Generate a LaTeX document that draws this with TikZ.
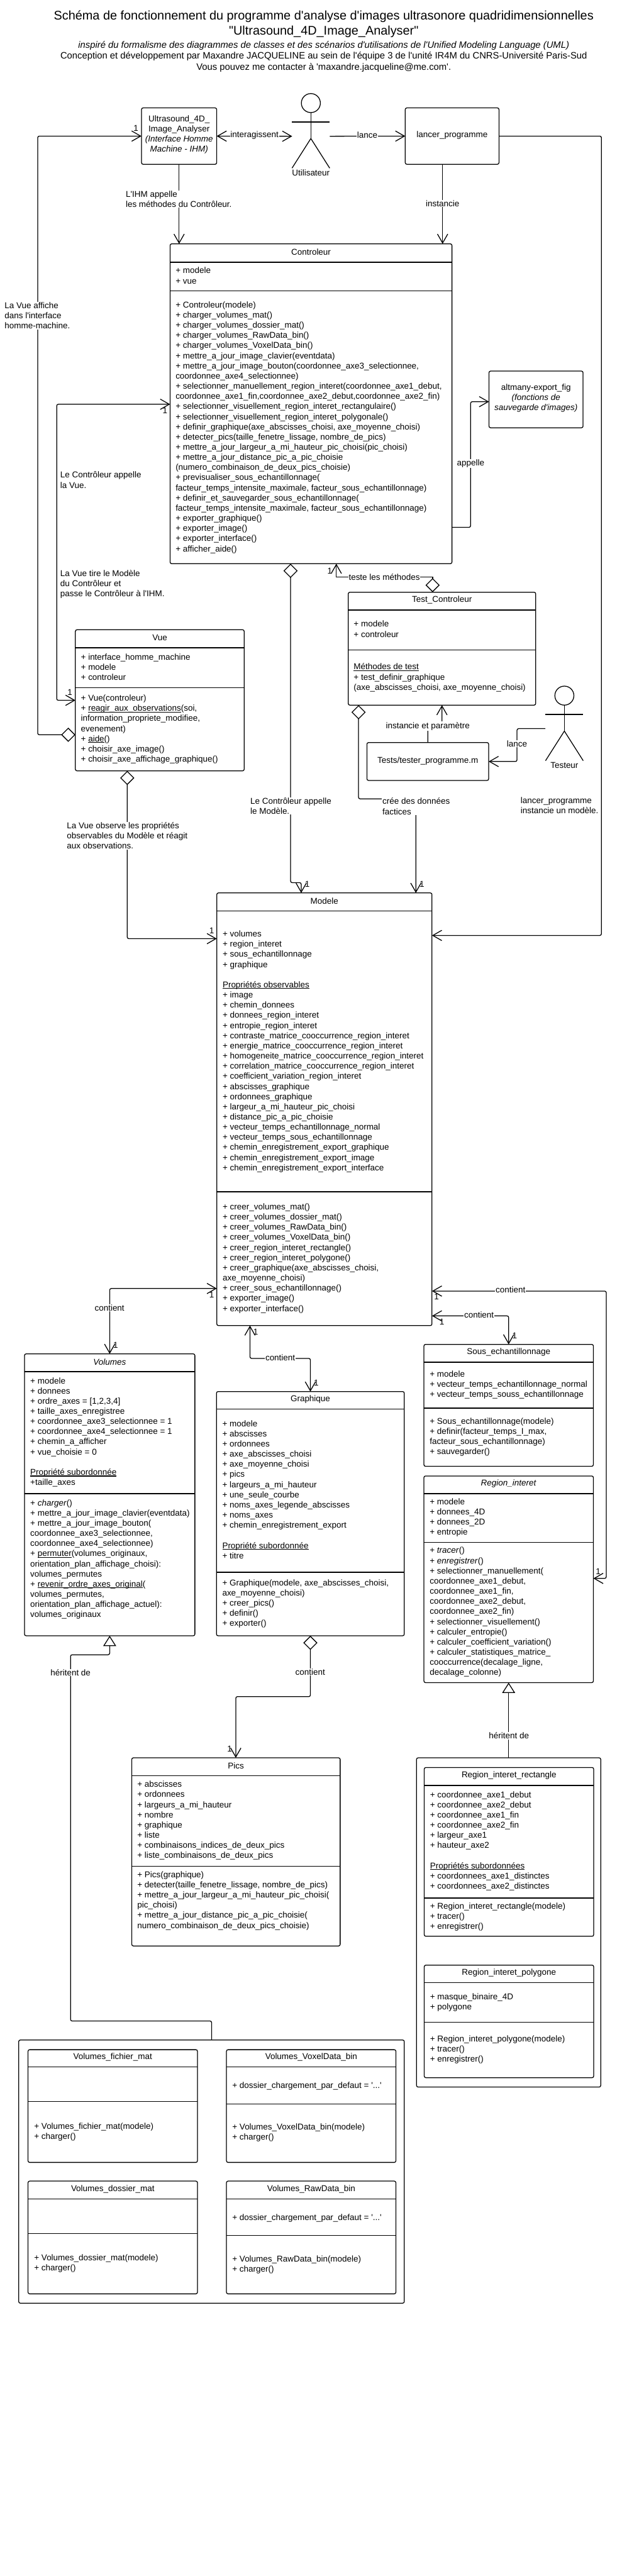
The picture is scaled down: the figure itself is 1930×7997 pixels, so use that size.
\documentclass[tikz,border=0pt]{standalone}
\usepackage{fontspec}
\setmainfont{Liberation Sans}[Ligatures=TeXOff]
\usepackage{tikz}
\usetikzlibrary{arrows.meta, calc}

\newcommand{\texte}{\fontsize{26.3}{31.55}\selectfont}
\newcommand{\grand}{\fontsize{38.8}{47}\selectfont}
\newcommand{\moyen}{\fontsize{28.9}{34.6}\selectfont}
\newsavebox{\soulboite}
\newcommand{\souligne}[1]{\sbox{\soulboite}{#1}\rlap{\rule[-4pt]{\wd\soulboite}{2pt}}\usebox{\soulboite}}

\tikzset{
  ouvert/.tip={Straight Barb[length=28pt,width=32pt]},
  losange/.tip={Diamond[open,length=44pt,width=44pt]},
  heritage/.tip={Triangle[open,length=32pt,width=40pt]},
  boite/.style={draw, rectangle, rounded corners=5pt, line width=2.5pt, outer sep=0pt, inner sep=0pt, font=\texte, align=center},
  titre/.style={inner sep=0pt, font=\texte, align=center},
  membre/.style={anchor=north west, align=left, inner sep=0pt, font=\texte, yshift=10pt, execute at begin node=\strut},
  trait/.style={line width=2.5pt},
  lien/.style={line width=2.5pt, rounded corners=5pt},
  etiquette/.style={fill=white, inner sep=1.5pt, align=left, font=\texte},
  note/.style={anchor=west, inner sep=0pt, align=left, font=\texte},
  mult/.style={inner sep=0pt, font=\texte},
  tete/.style={draw, circle, line width=2.5pt, minimum size=59pt, inner sep=0pt, outer sep=0pt}
}

% nom, x1, y1, x2, y2, y du titre, y des attributs, titre
\newcommand{\classe}[8]{
  \node[boite, minimum width={(#4-#2)*1pt}, minimum height={(#5-#3)*1pt}] (#1) at ({(#2+#4)/2},{(#3+#5)/2}) {};
  \node[titre, yshift=3pt] (#1titre) at ({(#2+#4)/2},{(#3+#6)/2}) {#8};
  \draw[trait] (#1.west |- 0,#6) -- (#1.east |- 0,#6);
  \draw[trait] (#1.west |- 0,#7) -- (#1.east |- 0,#7);
}

% nom, x, y de la tete, libelle
\newcommand{\acteur}[4]{
  \node[tete] (#1) at (#2,#3) {};
  \coordinate (#1corps) at ($(#1.south)+(0,80.5)$);
  \coordinate (#1bras) at ($(#1.south)+(0,29)$);
  \draw[trait] (#1.south) -- (#1corps);
  \draw[trait] ($(#1bras)+(-58.5,0)$) -- ($(#1bras)+(58.5,0)$);
  \draw[trait] ($(#1corps)+(-58.5,92)$) -- (#1corps) -- ($(#1corps)+(58.5,92)$);
  \node[titre] (#1nom) at ($(#1corps)+(0,106)$) {#4};
}

\begin{document}
\begin{tikzpicture}[x=1pt, y=-1pt]
  \useasboundingbox (0,0) rectangle (1930,7997);

  \node[inner sep=0pt, font=\grand] (titre1) at (1005,51) {Schéma de fonctionnement du programme d'analyse d'images ultrasonore quadridimensionnelles};
  \node[inner sep=0pt, font=\grand] (titre2) at (1005,98) {"Ultrasound\_4D\_Image\_Analyser"};
  \node[inner sep=0pt, font=\moyen] (titre3) at (1005,141) {\textit{inspiré du formalisme des diagrammes de classes et des scénarios d'utilisations de l'Unified Modeling Language (UML)}};
  \node[inner sep=0pt, font=\moyen] (titre4) at (1005,175) {Conception et développement par Maxandre JACQUELINE au sein de l'équipe 3 de l'unité IR4M du CNRS-Université Paris-Sud};
  \node[inner sep=0pt, font=\moyen] (titre5) at (1005,210) {Vous pouvez me contacter à 'maxandre.jacqueline@me.com'.};

  \node[boite, minimum width=233.5pt, minimum height=175pt] (ihm) at (556,422.5) {};
  \node[titre] (ihmtexte) at (556,417.5) {Ultrasound\_4D\_\\Image\_Analyser\\\textit{(Interface Homme}\\\textit{Machine - IHM)}};
  \node[boite, minimum width=291pt, minimum height=175pt] (lancer) at (1403.5,422.5) {};
  \node[titre] (lancertexte) at (1403.5,420) {lancer\_programme};
  \node[boite, minimum width=292pt, minimum height=176pt] (altmany) at (1664,1240) {};
  \node[titre] (altmanytexte) at (1664,1235.5) {altmany-export\_fig\\\textit{(fonctions de}\\\textit{sauvegarde d'images)}};
  \node[boite, minimum width=378pt, minimum height=117.5pt] (tester) at (1328,2364) {};
  \node[titre] (testertexte) at (1328,2362) {Tests/tester\_programme.m};

  \acteur{utilisateur}{965}{320}{Utilisateur}
  \acteur{testeur}{1752}{2159.5}{Testeur}
  \coordinate (utilisateurG) at (907,423);
  \coordinate (utilisateurD) at (1024,423);
  \coordinate (testeurG) at (1693,2262);

  \classe{ctrl}{528}{757}{1403}{1750}{814}{903.5}{Controleur}
  \node[membre] (ctrlA) at (545,840) {+ modele\\+ vue};
  \node[membre] (ctrlM) at (545,946) {+ Controleur(modele)\\+ charger\_volumes\_mat()\\+ charger\_volumes\_dossier\_mat()\\+ charger\_volumes\_RawData\_bin()\\+ charger\_volumes\_VoxelData\_bin()\\+ mettre\_a\_jour\_image\_clavier(eventdata)\\+ mettre\_a\_jour\_image\_bouton(coordonnee\_axe3\_selectionnee,\\coordonnee\_axe4\_selectionnee)\\+ selectionner\_manuellement\_region\_interet(coordonnee\_axe1\_debut,\\coordonnee\_axe1\_fin,coordonnee\_axe2\_debut,coordonnee\_axe2\_fin)\\+ selectionner\_visuellement\_region\_interet\_rectangulaire()\\+ selectionner\_visuellement\_region\_interet\_polygonale()\\+ definir\_graphique(axe\_abscisses\_choisi, axe\_moyenne\_choisi)\\+ detecter\_pics(taille\_fenetre\_lissage, nombre\_de\_pics)\\+ mettre\_a\_jour\_largeur\_a\_mi\_hauteur\_pic\_choisi(pic\_choisi)\\+ mettre\_a\_jour\_distance\_pic\_a\_pic\_choisie\\(numero\_combinaison\_de\_deux\_pics\_choisie)\\+ previsualiser\_sous\_echantillonnage(\\facteur\_temps\_intensite\_maximale, facteur\_sous\_echantillonnage)\\+ definir\_et\_sauvegarder\_sous\_echantillonnage(\\facteur\_temps\_intensite\_maximale, facteur\_sous\_echantillonnage)\\+ exporter\_graphique()\\+ exporter\_image()\\+ exporter\_interface()\\+ afficher\_aide()};

  \classe{vue}{234}{1955}{758}{2393}{2011}{2134.5}{Vue}
  \node[membre] (vueA) at (251,2039) {+ interface\_homme\_machine\\+ modele\\+ controleur};
  \node[membre] (vueM) at (251,2167) {+ Vue(controleur)\\+ \souligne{reagir\_aux\_observations}(soi,\\information\_propriete\_modifiee,\\evenement)\\+ \souligne{aide}()\\+ choisir\_axe\_image()\\+ choisir\_axe\_affichage\_graphique()};

  \classe{test}{1081}{1838.5}{1663}{2189}{1894}{2018}{Test\_Controleur}
  \node[membre] (testA) at (1098,1937) {+ modele\\+ controleur};
  \node[membre] (testM) at (1098,2069.5) {\souligne{Méthodes de test}\\+ test\_definir\_graphique\\(axe\_abscisses\_choisi, axe\_moyenne\_choisi)};

  \classe{modele}{673}{2772}{1341}{4115}{2828}{3700}{Modele}
  \node[membre] (modeleA) at (691,2899) {+ volumes\\+ region\_interet\\+ sous\_echantillonnage\\+ graphique\\[31.55pt]\souligne{Propriétés observables}\\+ image\\+ chemin\_donnees\\+ donnees\_region\_interet\\+ entropie\_region\_interet\\+ contraste\_matrice\_cooccurrence\_region\_interet\\+ energie\_matrice\_cooccurrence\_region\_interet\\+ homogeneite\_matrice\_cooccurrence\_region\_interet\\+ correlation\_matrice\_cooccurrence\_region\_interet\\+ coefficient\_variation\_region\_interet\\+ abscisses\_graphique\\+ ordonnees\_graphique\\+ largeur\_a\_mi\_hauteur\_pic\_choisi\\+ distance\_pic\_a\_pic\_choisie\\+ vecteur\_temps\_echantillonnage\_normal\\+ vecteur\_temps\_sous\_echantillonnage\\+ chemin\_enregistrement\_export\_graphique\\+ chemin\_enregistrement\_export\_image\\+ chemin\_enregistrement\_export\_interface};
  \node[membre] (modeleM) at (691,3746) {+ creer\_volumes\_mat()\\+ creer\_volumes\_dossier\_mat()\\+ creer\_volumes\_RawData\_bin()\\+ creer\_volumes\_VoxelData\_bin()\\+ creer\_region\_interet\_rectangle()\\+ creer\_region\_interet\_polygone()\\+ creer\_graphique(axe\_abscisses\_choisi,\\axe\_moyenne\_choisi)\\+ creer\_sous\_echantillonnage()\\+ exporter\_image()\\+ exporter\_interface()};

  \classe{volumes}{76}{4203}{605}{5078}{4258}{4637}{\textit{Volumes}}
  \node[membre] (volumesA) at (94,4286) {+ modele\\+ donnees\\+ ordre\_axes = [1,2,3,4]\\+ taille\_axes\_enregistree\\+ coordonnee\_axe3\_selectionnee = 1\\+ coordonnee\_axe4\_selectionnee = 1\\+ chemin\_a\_afficher\\+ vue\_choisie = 0\\[31.55pt]\souligne{Propriété subordonnée}\\+taille\_axes};
  \node[membre] (volumesM) at (94,4665) {+ \textit{charger}()\\+ mettre\_a\_jour\_image\_clavier(eventdata)\\+ mettre\_a\_jour\_image\_bouton(\\coordonnee\_axe3\_selectionnee,\\coordonnee\_axe4\_selectionnee)\\+ \souligne{permuter}(volumes\_originaux,\\orientation\_plan\_affichage\_choisi):\\volumes\_permutes\\+ \souligne{revenir\_ordre\_axes\_original}(\\volumes\_permutes,\\orientation\_plan\_affichage\_actuel):\\volumes\_originaux};

  \classe{graphique}{672}{4320}{1255}{5078}{4374}{4881}{Graphique}
  \node[membre] (graphiqueA) at (690,4419) {+ modele\\+ abscisses\\+ ordonnees\\+ axe\_abscisses\_choisi\\+ axe\_moyenne\_choisi\\+ pics\\+ largeurs\_a\_mi\_hauteur\\+ une\_seule\_courbe\\+ noms\_axes\_legende\_abscisses\\+ noms\_axes\\+ chemin\_enregistrement\_export\\[31.55pt]\souligne{Propriété subordonnée}\\+ titre};
  \node[membre] (graphiqueM) at (690,4913) {+ Graphique(modele, axe\_abscisses\_choisi,\\axe\_moyenne\_choisi)\\+ creer\_pics()\\+ definir()\\+ exporter()};

  \classe{sous}{1316}{4173.5}{1842}{4552}{4229}{4371.5}{Sous\_echantillonnage}
  \node[membre] (sousA) at (1334,4265) {+ modele\\+ vecteur\_temps\_echantillonnage\_normal\\+ vecteur\_temps\_souss\_echantillonnage};
  \node[membre] (sousM) at (1334,4411) {+ Sous\_echantillonnage(modele)\\+ definir(facteur\_temps\_I\_max,\\facteur\_sous\_echantillonnage)\\+ sauvegarder()};

  \classe{region}{1316}{4582}{1842}{5223.5}{4637}{4788}{\textit{Region\_interet}}
  \node[membre] (regionA) at (1334,4661) {+ modele\\+ donnees\_4D\\+ donnees\_2D\\+ entropie};
  \node[membre] (regionM) at (1334,4813) {+ \textit{tracer}()\\+ \textit{enregistrer}()\\+ selectionner\_manuellement(\\coordonnee\_axe1\_debut,\\coordonnee\_axe1\_fin,\\coordonnee\_axe2\_debut,\\coordonnee\_axe2\_fin)\\+ selectionner\_visuellement()\\+ calculer\_entropie()\\+ calculer\_coefficient\_variation()\\+ calculer\_statistiques\_matrice\_\\cooccurrence(decalage\_ligne,\\decalage\_colonne)};

  \classe{pics}{409}{5457}{1056}{6041}{5513}{5793}{Pics}
  \node[membre] (picsA) at (426,5539) {+ abscisses\\+ ordonnees\\+ largeurs\_a\_mi\_hauteur\\+ nombre\\+ graphique\\+ liste\\+ combinaisons\_indices\_de\_deux\_pics\\+ liste\_combinaisons\_de\_deux\_pics};
  \node[membre] (picsM) at (426,5819) {+ Pics(graphique)\\+ detecter(taille\_fenetre\_lissage, nombre\_de\_pics)\\+ mettre\_a\_jour\_largeur\_a\_mi\_hauteur\_pic\_choisi(\\pic\_choisi)\\+ mettre\_a\_jour\_distance\_pic\_a\_pic\_choisie(\\numero\_combinaison\_de\_deux\_pics\_choisie)};

  \node[boite, minimum width=572pt, minimum height=1022pt] (grouperegion) at (1579,5968) {};
  \classe{rect}{1317}{5487}{1843}{6011}{5543}{5892}{Region\_interet\_rectangle}
  \node[membre] (rectA) at (1335,5571) {+ coordonnee\_axe1\_debut\\+ coordonnee\_axe2\_debut\\+ coordonnee\_axe1\_fin\\+ coordonnee\_axe2\_fin\\+ largeur\_axe1\\+ hauteur\_axe2\\[31.55pt]\souligne{Propriétés subordonnées}\\+ coordonnees\_axe1\_distinctes\\+ coordonnees\_axe2\_distinctes};
  \node[membre] (rectM) at (1335,5917) {+ Region\_interet\_rectangle(modele)\\+ tracer()\\+ enregistrer()};
  \classe{poly}{1317}{6100.5}{1843}{6450}{6155}{6278}{Region\_interet\_polygone}
  \node[membre] (polyA) at (1335,6197.5) {+ masque\_binaire\_4D\\+ polygone};
  \node[membre] (polyM) at (1335,6329) {+ Region\_interet\_polygone(modele)\\+ tracer()\\+ enregistrer()};

  \node[boite, minimum width=1197pt, minimum height=817pt] (groupevolumes) at (656.5,6741.5) {};
  \classe{fichier}{87}{6363}{613}{6713}{6417}{6524}{Volumes\_fichier\_mat}
  \node[membre] (fichierM) at (106,6600) {+ Volumes\_fichier\_mat(modele)\\+ charger()};
  \classe{voxel}{703}{6363}{1229}{6713}{6417}{6531}{Volumes\_VoxelData\_bin}
  \node[membre] (voxelA) at (721,6471) {+ dossier\_chargement\_par\_defaut = '...'};
  \node[membre] (voxelM) at (721,6603) {+ Volumes\_VoxelData\_bin(modele)\\+ charger()};
  \classe{dossier}{87}{6771}{613}{7121}{6826}{6934}{Volumes\_dossier\_mat}
  \node[membre] (dossierM) at (106,7008) {+ Volumes\_dossier\_mat(modele)\\+ charger()};
  \classe{raw}{703}{6771}{1229}{7121}{6826}{6940}{Volumes\_RawData\_bin}
  \node[membre] (rawA) at (721,6880) {+ dossier\_chargement\_par\_defaut = '...'};
  \node[membre] (rawM) at (721,7012) {+ Volumes\_RawData\_bin(modele)\\+ charger()};

  \draw[lien, {losange}-{ouvert}] (vue.west |- 0,2281) -- (117,2281) -- (117,0 |- ihm.west) -- (ihm.west);
  \draw[lien, {ouvert}-{ouvert}] (ihm.east) -- (utilisateurG);
  \draw[lien, -{ouvert}] (utilisateurD) -- (lancer.west);
  \draw[lien, -{ouvert}] (lancer.east) -- (1867,0 |- lancer.east) -- (1867,2904) -- (modele.east |- 0,2904);
  \draw[lien, -{ouvert}] (ihm.south) -- (ihm.south |- ctrl.north);
  \draw[lien, -{ouvert}] (1374,0 |- lancer.south) -- (1374,0 |- ctrl.north);
  \draw[lien, {ouvert}-{ouvert}] (ctrl.west |- 0,1255) -- (176,1255) -- (176,2174) -- (vue.west |- 0,2174);
  \draw[lien, -{ouvert}] (ctrl.east |- 0,1637) -- (1461,1637) -- (1461,1247) -- (altmany.west |- 0,1247);
  \draw[lien, {losange}-{ouvert}] (902,0 |- ctrl.south) -- (902,2740) -- (935,2740) -- (935,0 |- modele.north);
  \draw[lien, {losange}-{ouvert}] (1113,0 |- test.south) -- (1113,2480) -- (1291,2480) -- (1291,0 |- modele.north);
  \draw[lien, {losange}-{ouvert}] (395,0 |- vue.south) -- (395,2914) -- (modele.west |- 0,2914);
  \draw[trait, {losange}-{ouvert}] (1343,0 |- test.north) -- (1343,1792) -- (1044,1792) -- (1044,0 |- ctrl.south);
  \draw[lien, -{ouvert}] (tester.north) -- (1328,2254) -- (1372,2254) -- (1372,0 |- test.south);
  \draw[lien, -{ouvert}] (testeurG) -- (1605,2262) -- (1605,0 |- tester.east) -- (tester.east);
  \draw[lien, {ouvert}-{ouvert}] (modele.west |- 0,4000) -- (volumes.north |- 0,4000) -- (volumes.north);
  \draw[lien, {ouvert}-{ouvert}] (776,0 |- modele.south) -- (776,4217) -- (graphique.north |- 0,4217) -- (graphique.north);
  \draw[lien, {ouvert}-{ouvert}] (modele.east |- 0,4085) -- (sous.north |- 0,4085) -- (sous.north);
  \draw[lien, {ouvert}-{ouvert}] (modele.east |- 0,4008) -- (1882,4008) -- (1882,4900) -- (region.east |- 0,4900);
  \draw[lien, {losange}-{ouvert}] (graphique.south) -- (graphique.south |- 0,5267) -- (732,5267) -- (732,0 |- pics.north);
  \draw[lien, {heritage}-] (volumes.south) -- (volumes.south |- 0,5137) -- (219,5137) -- (219,6274) -- (657,6274) -- (657,0 |- groupevolumes.north);
  \draw[lien, {heritage}-] (region.south) -- (region.south |- grouperegion.north);

  \node[etiquette] (lbl1) at (790,420) {interagissent};
  \node[etiquette] (lbl2) at (1140,420) {lance};
  \node[etiquette] (lbl3) at (555,618) {L'IHM appelle\\les méthodes du Contrôleur.};
  \node[etiquette] (lbl4) at (1374,632) {instancie};
  \node[etiquette] (lbl5) at (116,980) {La Vue affiche\\dans l'interface\\homme-machine.};
  \node[note] (lbl6) at (187,1490) {Le Contrôleur appelle\\la Vue.};
  \node[note] (lbl7) at (187,1813) {La Vue tire le Modèle\\du Contrôleur et\\passe le Contrôleur à l'IHM.};
  \node[etiquette] (lbl8) at (1461,1439) {appelle};
  \node[etiquette] (lbl9) at (1193,1792) {teste les méthodes};
  \node[etiquette] (lbl10) at (1328,2254) {instancie et paramètre};
  \node[etiquette] (lbl11) at (1605,2309) {lance};
  \node[etiquette] (lbl12) at (903,2502) {Le Contrôleur appelle\\le Modèle.};
  \node[etiquette] (lbl13) at (1292,2503) {crée des données\\factices};
  \node[note] (lbl14) at (1616,2500) {lancer\_programme\\instancie un modèle.};
  \node[etiquette] (lbl15) at (395,2594) {La Vue observe les propriétés\\observables du Modèle et réagit\\aux observations.};
  \node[etiquette] (lbl16) at (340,4060) {contient};
  \node[etiquette] (lbl17) at (870,4214) {contient};
  \node[etiquette] (lbl18) at (1487,4081) {contient};
  \node[etiquette] (lbl19) at (1585,4004) {contient};
  \node[etiquette] (lbl20) at (963,5190) {contient};
  \node[etiquette] (lbl21) at (219,5192) {héritent de};
  \node[etiquette] (lbl22) at (1580,5388) {héritent de};

  \node[mult] (m1) at (422,399) {1};
  \node[mult] (m2) at (512,1274) {1};
  \node[mult] (m3) at (217,2150) {1};
  \node[mult] (m4) at (1024,1772) {1};
  \node[mult] (m5) at (954,2745) {1};
  \node[mult] (m6) at (1310,2745) {1};
  \node[mult] (m7) at (657,2889) {1};
  \node[mult] (m8) at (657,4019) {1};
  \node[mult] (m9) at (359,4176) {1};
  \node[mult] (m10) at (794,4135) {1};
  \node[mult] (m11) at (982,4293) {1};
  \node[mult] (m12) at (1372,4103) {1};
  \node[mult] (m13) at (1598,4147) {1};
  \node[mult] (m14) at (1355,4026) {1};
  \node[mult] (m15) at (1857,4878) {1};
  \node[mult] (m16) at (713,5430) {1};
\end{tikzpicture}
\end{document}
